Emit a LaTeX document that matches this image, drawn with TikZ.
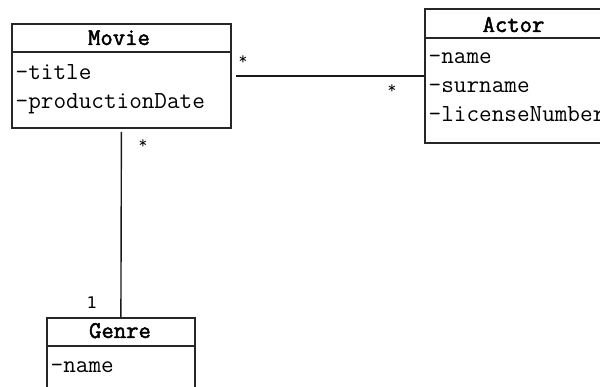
\documentclass[tikz,border=0pt]{standalone}
\usepackage{fontspec}
\newfontfamily\labelfont{DejaVu Sans}
\newfontfamily\headfont[FakeBold=2]{Latin Modern Mono}
\begin{document}
\begin{tikzpicture}[x=1pt,y=-1pt,
  umlbox/.style={draw=black!85, line width=1.8pt, inner sep=0pt, anchor=north west},
  divider/.style={draw=black!85, line width=1.5pt},
  assoc/.style={draw=black!90, line width=1.4pt},
  classname/.style={font=\headfont\fontsize{24}{26}\selectfont, anchor=base, inner sep=0pt},
  attr/.style={font=\ttfamily\fontsize{24.5}{26}\selectfont, anchor=base west, inner sep=0pt},
  mult/.style={font=\ttfamily\fontsize{17}{19}\selectfont, inner sep=0pt},
  multnum/.style={font=\labelfont\fontsize{16}{18}\selectfont, anchor=base, inner sep=0pt}]
\clip (0,0) rectangle (600,387);
\useasboundingbox (0,0) rectangle (600,387);

% Movie class
\node[umlbox, minimum width=219pt, minimum height=104pt] (movie) at (11,23) {};
\draw[divider] (11,52) -- (230,52);
\node[classname] (movieName) at (119,45) {Movie};
\node[attr] (movieA1) at (15.5,80) {-title};
\node[attr] (movieA2) at (15.5,109) {-productionDate};

% Actor class
\node[umlbox, minimum width=179pt, minimum height=134pt] (actor) at (424,8) {};
\draw[divider] (424,38) -- (603,38);
\node[classname] (actorName) at (513.5,32) {Actor};
\node[attr] (actorA1) at (428.5,64) {-name};
\node[attr] (actorA2) at (428.5,93) {-surname};
\node[attr] (actorA3) at (428.5,122) {-licenseNumber};

% Genre class
\node[umlbox, minimum width=148pt, minimum height=90pt] (genre) at (46,317) {};
\draw[divider] (46,346) -- (194,346);
\node[classname] (genreName) at (120,338) {Genre};
\node[attr] (genreA1) at (50.5,373) {-name};

% Associations
\draw[assoc] ([xshift=4pt]movie.east) -- (movie.east -| actor.west);
\draw[assoc] ([yshift=-3pt]movie.south) -- (genre.north);

% Multiplicities
\node[mult] (m1) at (243,60) {*};
\node[mult] (m2) at (392,89) {*};
\node[mult] (m3) at (143,144) {*};
\node[multnum] (m4) at (92,309) {1};
\end{tikzpicture}
\end{document}
